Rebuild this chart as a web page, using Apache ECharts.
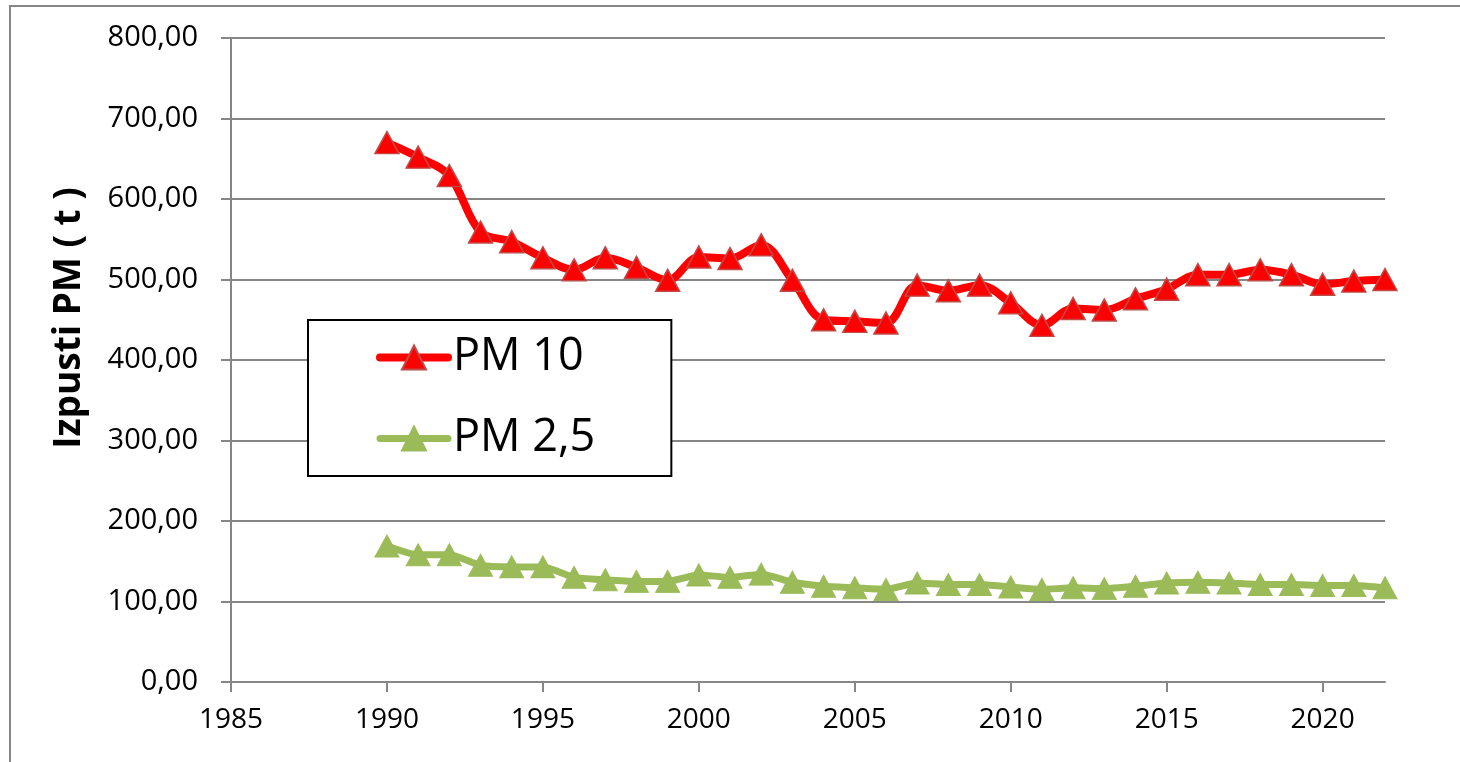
<!DOCTYPE html>
<html>
<head>
<meta charset="utf-8">
<title>Izpusti PM</title>
<script src="https://cdn.jsdelivr.net/npm/echarts@6/dist/echarts.min.js"></script>
<style>
    html, body { margin: 0; padding: 0; background: #fff; }
    #main { width: 1460px; height: 762px; }
</style>
</head>
<body>
<div id="main"></div>
<script>
    // leta (x os)
    var years = [1990, 1991, 1992, 1993, 1994, 1995, 1996, 1997, 1998, 1999,
                 2000, 2001, 2002, 2003, 2004, 2005, 2006, 2007, 2008, 2009,
                 2010, 2011, 2012, 2013, 2014, 2015, 2016, 2017, 2018, 2019,
                 2020, 2021, 2022];
    // PM 10 izpusti (t)
    var pm10 = [670, 652, 629, 559, 547, 527, 512, 527, 515, 499,
                528, 526, 543, 499, 450, 448, 446, 493, 486, 493,
                471, 443, 464, 462, 476, 488, 506, 506, 512, 506,
                494, 498, 500];
    // PM 2,5 izpusti (t)
    var pm25 = [169, 158, 158, 145, 143, 143, 130, 127, 125, 125,
                133, 130, 134, 124, 119, 117, 115, 123, 121, 121,
                118, 115, 117, 116, 119, 123, 124, 123, 121, 121,
                120, 120, 117];
    var xTicks = [1985, 1990, 1995, 2000, 2005, 2010, 2015, 2020];
    var seriesNames = ['PM 10', 'PM 2,5'];

    function pairs(vals) {
        return years.map(function (y, i) { return [y, vals[i]]; });
    }

    var chart = echarts.init(document.getElementById('main'));
    chart.setOption({
        animation: false,
        textStyle: { fontFamily: 'Open Sans' },
        grid: { left: 231, right: 75, top: 38, bottom: 80 },
        graphic: [
            {
                type: 'rect',
                shape: { x: 10, y: 6, width: 1480, height: 800 },
                style: { fill: 'none', stroke: '#868686', lineWidth: 2 },
                silent: true
            },
            {
                type: 'text',
                x: 69, y: 318,
                rotation: Math.PI / 2,
                style: {
                    text: 'Izpusti PM ( t )',
                    fontFamily: 'Open Sans',
                    fontWeight: 'bold',
                    fontSize: 37,
                    fill: '#000',
                    align: 'center',
                    verticalAlign: 'middle'
                }
            }
        ],
        legend: {
            data: [
                { name: seriesNames[0], lineStyle: { width: 8, cap: 'round' } },
                { name: seriesNames[1], lineStyle: { width: 7, cap: 'round' } }
            ],
            orient: 'vertical',
            left: 308,
            top: 320,
            padding: [15, 76, 15, 68],
            itemGap: 36,
            itemWidth: 68,
            itemHeight: 30,
            backgroundColor: '#fff',
            borderColor: '#000',
            borderWidth: 2,
            borderRadius: 0,
            textStyle: { fontSize: 45, lineHeight: 44, color: '#000', fontFamily: 'Open Sans' }
        },
        xAxis: {
            type: 'value',
            min: 1985,
            max: 2022,
            interval: 5,
            splitLine: { show: false },
            axisLine: { lineStyle: { color: '#868686', width: 2 } },
            axisTick: { length: 10, lineStyle: { color: '#868686', width: 2 }, customValues: xTicks },
            axisLabel: {
                fontSize: 28,
                color: '#000',
                margin: 24,
                customValues: xTicks,
                formatter: function (v) { return String(v); }
            }
        },
        yAxis: {
            type: 'value',
            min: 0,
            max: 800,
            interval: 100,
            axisLine: { show: true, lineStyle: { color: '#868686', width: 2 } },
            axisTick: { show: true, length: 10, lineStyle: { color: '#868686', width: 2 } },
            splitLine: { lineStyle: { color: '#868686', width: 2 } },
            axisLabel: {
                fontSize: 29,
                color: '#000',
                margin: 33,
                formatter: function (v) { return v.toFixed(2).replace('.', ','); }
            }
        },
        series: [
            {
                name: seriesNames[0],
                type: 'line',
                data: pairs(pm10),
                smooth: 0.35,
                symbol: 'triangle',
                symbolSize: [24, 22],
                lineStyle: { color: '#ff0000', width: 8 },
                itemStyle: { color: '#ff0000', borderColor: '#be4b48', borderWidth: 1.5 },
                z: 3
            },
            {
                name: seriesNames[1],
                type: 'line',
                data: pairs(pm25),
                smooth: 0.2,
                symbol: 'triangle',
                symbolSize: [24, 22],
                lineStyle: { color: '#9bbb59', width: 7 },
                itemStyle: { color: '#9bbb59', borderColor: '#9bbb59', borderWidth: 1 },
                z: 2
            }
        ]
    });
</script>
</body>
</html>
